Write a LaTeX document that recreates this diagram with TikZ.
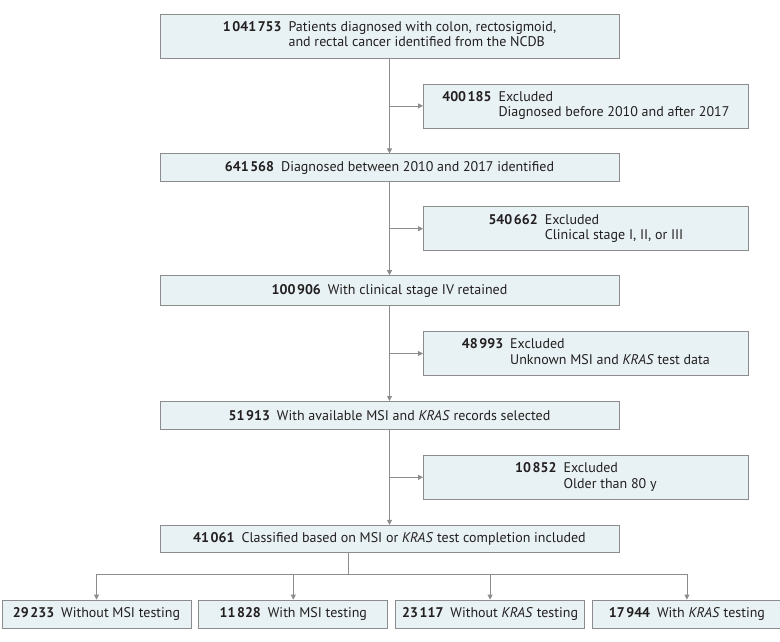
\documentclass[tikz,border=0pt]{standalone}
\usepackage{fontspec}
\setmainfont{PT Sans}
\usepackage{xcolor}
\usepackage{tikz}
\usetikzlibrary{arrows.meta, positioning, calc}
\definecolor{boxfill}{RGB}{232,242,244}
\definecolor{boxline}{RGB}{140,140,140}
\definecolor{txt}{RGB}{35,31,32}
\newcommand{\tsep}{\kern1.6pt}

\begin{document}
\begin{tikzpicture}[
    font=\fontsize{14}{15.4}\selectfont,
    node distance=95pt,
    main_box/.style={rectangle, draw=boxline, fill=boxfill, line width=0.8pt, minimum width=459pt, minimum height=28pt, align=center, text=txt, inner sep=4pt},
    excl_box/.style={main_box, minimum width=325pt, minimum height=44pt},
    out_box/.style={main_box, minimum width=189pt},
    link/.style={draw=boxline, line width=0.8pt},
    arrow/.style={link, -{Triangle[length=5pt, width=5pt]}}
]
\useasboundingbox (0,0) rectangle (780pt,-641pt);

\node (total) [main_box, minimum height=44pt] at (389.5pt,-36pt) {\begin{tabular}{@{}r@{\enspace}l@{}}\textbf{1\tsep041\tsep753} & Patients diagnosed with colon, rectosigmoid,\\ & and rectal cancer identified from the NCDB\end{tabular}};
\node (period) [main_box, below=of total] {\textbf{641\tsep568}\enspace Diagnosed between 2010 and 2017 identified};
\node (stage) [main_box, below=93pt of period, minimum height=30pt] {\textbf{100\tsep906}\enspace With clinical stage IV retained};
\node (records) [main_box, below=of stage] {\textbf{51\tsep913}\enspace With available MSI and \textit{KRAS} records selected};
\node (classified) [main_box, below=of records, minimum height=27pt] {\textbf{41\tsep061}\enspace Classified based on MSI or \textit{KRAS} test completion included};

\node (excl1) [excl_box, anchor=west] at ($(total.south)!0.5!(period.north) + (33.5pt,0)$) {\begin{tabular}{@{}r@{\enspace}l@{}}\textbf{400\tsep185} & Excluded\\ & Diagnosed before 2010 and after 2017\end{tabular}};
\node (excl2) [excl_box, anchor=west] at ($(period.south)!0.5!(stage.north) + (33.5pt,0)$) {\begin{tabular}{@{}r@{\enspace}l@{}}\textbf{540\tsep662} & Excluded\\ & Clinical stage I, II, or III\end{tabular}};
\node (excl3) [excl_box, anchor=west] at ($(stage.south)!0.5!(records.north) + (33.5pt,0)$) {\begin{tabular}{@{}r@{\enspace}l@{}}\textbf{48\tsep993} & Excluded\\ & Unknown MSI and \textit{KRAS} test data\end{tabular}};
\node (excl4) [excl_box, anchor=west] at ($(records.south)!0.5!(classified.north) + (33.5pt,0)$) {\begin{tabular}{@{}r@{\enspace}l@{}}\textbf{10\tsep852} & Excluded\\ & Older than 80 y\end{tabular}};

\node (nomsi) [out_box] at (96.5pt,-614pt) {\textbf{29\tsep233}\enspace Without MSI testing};
\node (msi) [out_box, right=7pt of nomsi] {\textbf{11\tsep828}\enspace With MSI testing};
\node (nokras) [out_box, right=7pt of msi] {\textbf{23\tsep117}\enspace Without \textit{KRAS} testing};
\node (kras) [out_box, right=7pt of nokras] {\textbf{17\tsep944}\enspace With \textit{KRAS} testing};

\draw [arrow] (total) -- (period);
\draw [arrow] (period) -- (stage);
\draw [arrow] (stage) -- (records);
\draw [arrow] (records) -- (classified);
\draw [arrow] (total.south |- excl1) -- (excl1);
\draw [arrow] (period.south |- excl2) -- (excl2);
\draw [arrow] (stage.south |- excl3) -- (excl3);
\draw [arrow] (records.south |- excl4) -- (excl4);

\coordinate (split) at (348pt,-574pt);
\draw [link] (split |- classified.south) -- (split);
\draw [link] (split -| nomsi) -- (split -| kras);
\foreach \n in {nomsi, msi, nokras, kras}
    \draw [arrow] (split -| \n) -- (\n);
\end{tikzpicture}
\end{document}
